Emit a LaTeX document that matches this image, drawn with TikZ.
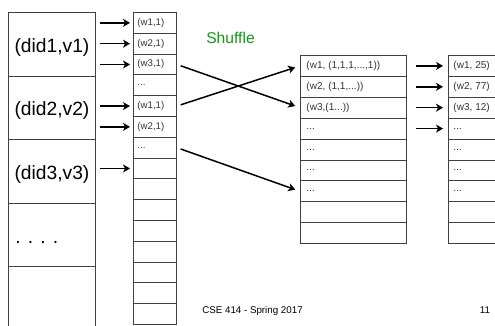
\documentclass[tikz,border=0pt]{standalone}
\usepackage{fontspec}
\setmainfont{Liberation Sans}
\usetikzlibrary{arrows.meta,positioning}
\definecolor{shufflegreen}{RGB}{20,150,20}
\newcommand{\threedots}{...}
\tikzstyle{didcell} = [draw=black!75, line width=0.9bp, anchor=north west, minimum width=87bp, minimum height=63.6bp, inner sep=0pt, text height=16bp, text depth=0bp, font=\fontsize{19.3}{22}\selectfont]
\tikzstyle{wcell} = [draw=black!75, line width=0.9bp, anchor=north west, minimum height=20.8bp, text width=35bp, inner xsep=4bp, inner ysep=0pt, align=flush left, text=black!80, font=\fontsize{9.7}{11}\selectfont]
\tikzstyle{listcell} = [wcell, minimum height=20.9bp, text width=94bp, inner xsep=6bp, font=\fontsize{10.1}{12}\selectfont]
\tikzstyle{sumcell} = [wcell, minimum height=20.9bp, text width=80bp, inner xsep=5bp, font=\fontsize{10.1}{12}\selectfont]
\tikzstyle{arr} = [-{Stealth[length=7bp,width=8bp,inset=2bp]}, line width=1.5bp, shorten <=4bp, shorten >=3bp]

\begin{document}
\begin{tikzpicture}[x=1bp,y=-1bp]
	\clip (0,0) rectangle (495,325);
	% input documents
	\node[didcell] (d1) at (8,12) {(did1,v1)};
	\node[didcell] (d2) at (8,75.6) {(did2,v2)};
	\node[didcell] (d3) at (8,139.2) {(did3,v3)};
	\node[didcell, text width=73bp, inner xsep=7bp, align=flush left] (d4) at (8,202.8) {. . . .};
	\node[didcell] (d5) at (8,266.4) {};
	% map output
	\foreach \t [count=\i] in {{(w1,1)},{(w2,1)},{(w3,1)},{\threedots},{(w1,1)},{(w2,1)},{\threedots},{},{},{},{},{},{},{},{}}
		\node[wcell] (m\i) at (133,{12+(\i-1)*20.8}) {\t};
	% grouped lists
	\foreach \t [count=\i] in {{(w1, (1,1,1,\threedots,1))},{(w2, (1,1,\threedots))},{(w3,(1\threedots))},{\threedots},{\threedots},{\threedots},{\threedots},{},{}}
		\node[listcell] (r\i) at (300,{55+(\i-1)*20.9}) {\t};
	% reduce output
	\foreach \t [count=\i] in {{(w1, 25)},{(w2, 77)},{(w3, 12)},{\threedots},{\threedots},{\threedots},{\threedots},{},{}}
		\node[sumcell] (s\i) at (448,{55+(\i-1)*20.9}) {\t};
	% map arrows
	\draw[arr] (d1.east |- m1.west) -- (m1.west);
	\draw[arr] (d1.east |- m2.west) -- (m2.west);
	\draw[arr] (d1.east |- m3.west) -- (m3.west);
	\draw[arr] (d2.east |- m5.west) -- (m5.west);
	\draw[arr] (d2.east |- m6.west) -- (m6.west);
	\draw[arr] (d3.east |- m8.west) -- (m8.west);
	% shuffle arrows
	\draw[arr, shorten >=5bp] (m3.east) -- (r3.west);
	\draw[arr, shorten >=5bp] (m5.east) -- (r1.west);
	\draw[arr, shorten >=5bp] (m7.east) -- (r7.west);
	% reduce arrows
	\foreach \i in {1,2,3,4}
		\draw[arr, shorten <=9bp, shorten >=5bp] (r\i.east) -- (s\i.west);
	\node[anchor=base, text=shufflegreen, font=\fontsize{15.7}{18}\selectfont] (shuffle) at (230.5,43) {Shuffle};
	\node[anchor=base, font=\fontsize{9.8}{12}\selectfont] (footer) at (252.5,313) {CSE 414 - Spring 2017};
	\node[anchor=base, font=\fontsize{9.8}{12}\selectfont] (page) at (485,313) {11};
\end{tikzpicture}
\end{document}
